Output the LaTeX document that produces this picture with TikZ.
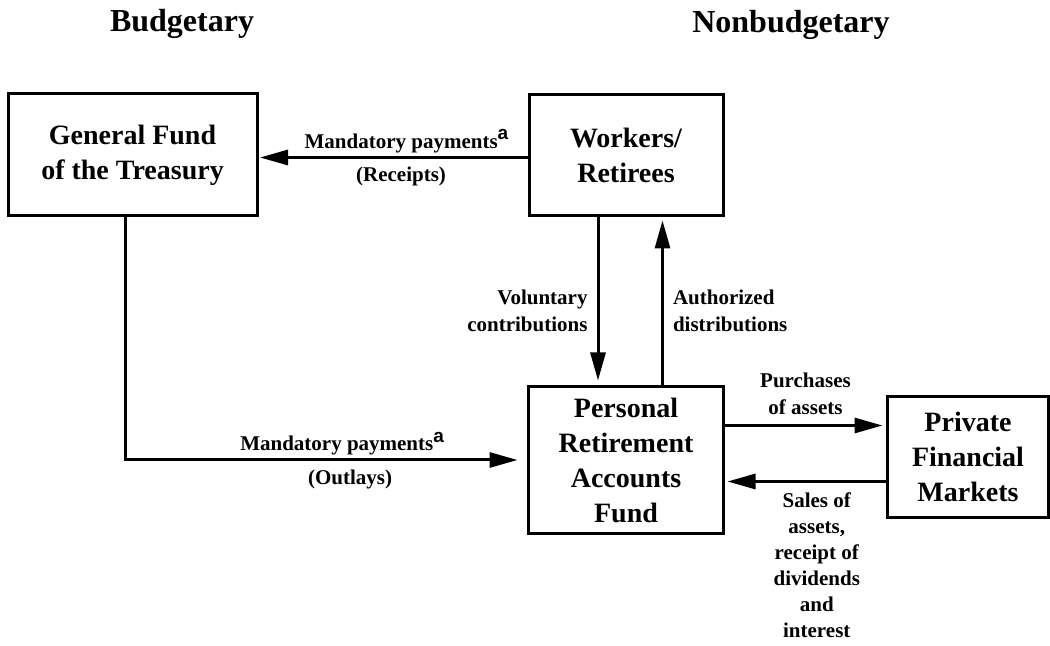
\documentclass[tikz,border=0pt]{standalone}
\usepackage{fontspec}
\setmainfont{Liberation Serif}
\newfontfamily\supfont{Liberation Sans}
\usetikzlibrary{positioning,arrows.meta}
\newcommand{\supa}{\raisebox{.42em}{\fontsize{9.5}{9.5}\selectfont\supfont\bfseries a}}

\begin{document}
\begin{tikzpicture}
		[x=0.5pt,y=-0.5pt,
		box/.style={rectangle,draw=black,line width=1.5pt,inner sep=0pt,align=center,font=\fontsize{14}{17.5}\selectfont\bfseries},
		heading/.style={inner sep=0pt,font=\fontsize{16}{19}\selectfont\bfseries},
		flow/.style={inner sep=0pt,font=\fontsize{10.5}{13.5}\selectfont\bfseries},
		pipe/.style={line width=1.5pt,-{Triangle[length=14pt,width=7.5pt]}}]
		\useasboundingbox (0,0) rectangle (1050,646);

		\node [heading,anchor=base] (budg) at (182,32) {Budgetary};
		\node [heading,anchor=base] (nonbudg) at (791,33) {Nonbudgetary};

		\node [box,minimum width=124.5pt,minimum height=61pt] (fund) at (132.5,155) {General Fund\\of the Treasury};
		\node [box,minimum width=97pt,minimum height=60.5pt] (workers) [right=134.5pt of fund] {Workers/\\Retirees};
		\node [box,minimum width=97.5pt,minimum height=73.5pt] (accounts) [below=84pt of workers] {Personal\\Retirement\\Accounts\\Fund};
		\node [box,minimum width=80.5pt,minimum height=60.5pt] (markets) [right=80.5pt of accounts, yshift=1.5pt] {Private\\Financial\\Markets};

		\coordinate (pay) at ([yshift=-1.25pt]workers.west);
		\coordinate (out) at ([xshift=-3.75pt]fund.south);
		\coordinate (give) at ([xshift=-14pt]workers.south);
		\coordinate (take) at ([xshift=18.25pt]accounts.north);
		\coordinate (buy) at ([yshift=17.25pt]accounts.east);
		\coordinate (sell) at ([yshift=-12.25pt]markets.west);

		\draw [pipe,shorten >=0.75pt] (pay) -- (pay -| fund.east)
			node [flow,above=1.5pt,pos=.45] {Mandatory payments\supa}
			node [flow,below=4pt,pos=.47] {(Receipts)};
		\draw [pipe,shorten >=4.75pt] (out) |- (accounts.west)
			node [flow,above=1.5pt,pos=.77] {Mandatory payments\supa}
			node [flow,below=4pt,pos=.78] {(Outlays)};
		\draw [pipe,shorten >=2.25pt] (give) -- (give |- accounts.north)
			node [flow,left=4.5pt,pos=.56,align=right] {Voluntary\\contributions};
		\draw [pipe,shorten >=1.75pt] (take) -- (take |- workers.south)
			node [flow,right=4.5pt,pos=.44,align=left] {Authorized\\distributions};
		\draw [pipe,shorten >=1.75pt] (buy) -- (buy -| markets.west)
			node [flow,above=4.5pt,midway,align=center] {Purchases\\of assets};
		\draw [pipe,shorten >=1.25pt] (sell) -- (sell -| accounts.east)
			node [flow,below=5pt,pos=.43,align=center,font=\fontsize{10.5}{13}\selectfont\bfseries] {Sales of\\assets,\\receipt of\\dividends\\and\\interest};

	\end{tikzpicture}
\end{document}
